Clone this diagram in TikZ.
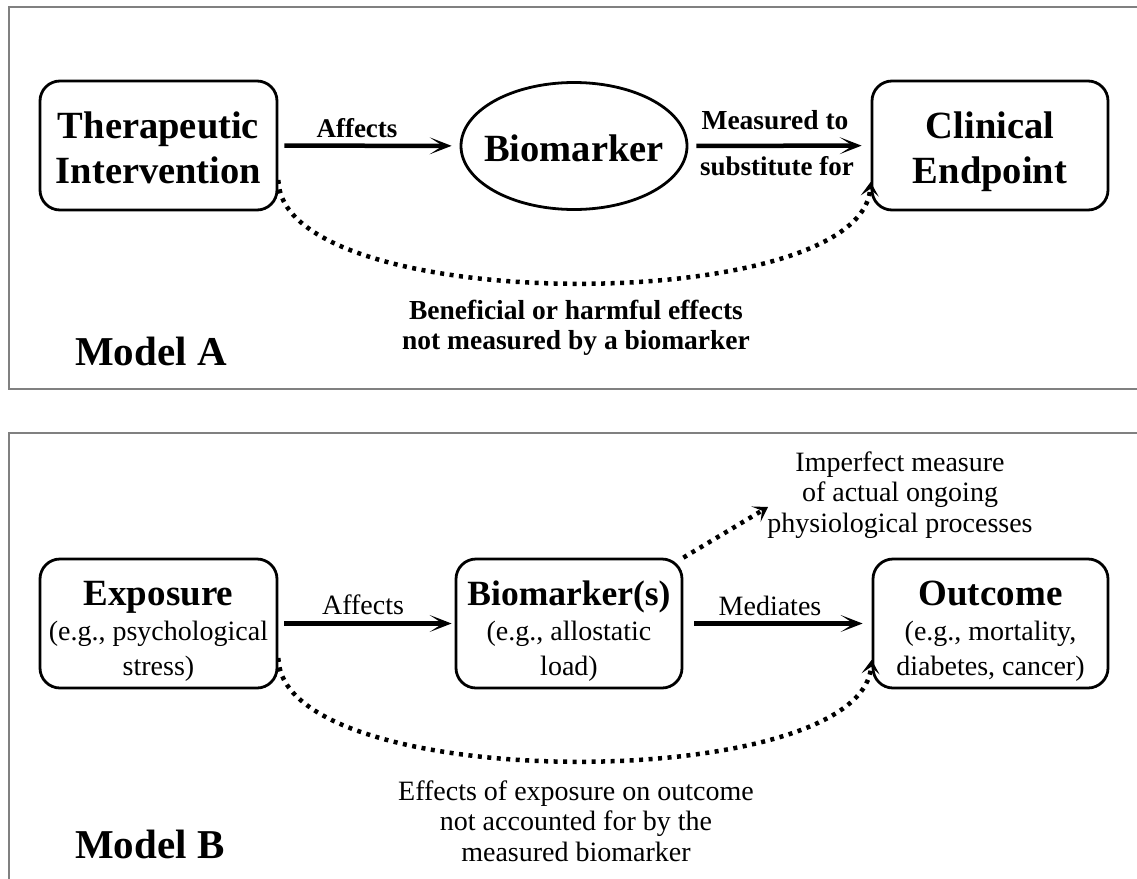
\documentclass[tikz,border=0pt]{standalone}
\usepackage{fontspec}
\setmainfont{Liberation Serif}
\usetikzlibrary{arrows.meta,shapes.geometric}
\newcommand{\hiStrut}[1]{\rule{0pt}{#1}}
\newcommand{\loStrut}[1]{\rule[-#1]{0pt}{#1}}
\newcommand{\titleA}{\fontsize{38.5}{45}\selectfont\bfseries}
\newcommand{\titleB}{\fontsize{37}{35}\selectfont\bfseries}
\newcommand{\bodyB}{\fontsize{28}{35}\selectfont}
\newcommand{\noteA}{\fontsize{27.5}{30}\selectfont\bfseries}
\newcommand{\noteB}{\fontsize{28}{30.5}\selectfont}
\newcommand{\modelFont}{\fontsize{41}{45}\selectfont\bfseries}
\begin{document}
\begin{tikzpicture}
[x=1pt,y=-1pt,
  frameDecorate/.style={draw=black!50,line width=2.5pt},
  boxDecorate/.style={shape=rectangle,rounded corners=20pt,draw,line width=2.8pt,
    inner sep=0pt,minimum width=237pt,minimum height=129pt,align=center},
  ovalDecorate/.style={shape=ellipse,draw,line width=2.8pt,inner ysep=0pt,
    inner xsep=-25pt,minimum width=226pt,minimum height=127pt},
  arrowDecorate/.style={-{Stealth[length=22pt,width=17pt,inset=13pt,line width=1.5pt]},
    line width=4.5pt},
  dotDecorate/.style={-{Stealth[length=14pt,width=18pt,inset=7pt,line width=1.5pt]},
    line width=4.5pt,dash pattern=on 4pt off 5.5pt},
  labelDecorate/.style={inner sep=0pt,align=center}]
\clip (0,0) rectangle (1137,878);
%% frames
\draw[frameDecorate] (1200,7) -- (9,7) -- (9,389) -- (1200,389);
\draw[frameDecorate] (1200,433) -- (9,433) -- (9,900);
%% model A
\node (therapy) at (158.5,145.5) [boxDecorate,font=\titleA]
  {\hiStrut{40pt}Therapeutic\\Intervention\loStrut{9pt}};
\node (marker) at (574,146) [ovalDecorate,font=\titleA]
  {\hiStrut{36pt}Biomarker\loStrut{6pt}};
\node (endpoint) at (990,145.5) [boxDecorate,minimum width=236pt,font=\titleA]
  {\hiStrut{40pt}Clinical\\Endpoint\loStrut{9pt}};
\node (affectsA) at (357,137) [labelDecorate,anchor=base,font=\fontsize{27}{30}\selectfont\bfseries] {Affects};
\node (measured) at (775,129) [labelDecorate,anchor=base,font=\fontsize{27.5}{30}\selectfont\bfseries] {Measured to};
\node (substitute) at (777,175) [labelDecorate,anchor=base,font=\fontsize{27}{30}\selectfont\bfseries] {substitute for};
\node (beneficial) at (576,328) [labelDecorate,font=\noteA]
  {Beneficial or harmful effects\\not measured by a biomarker};
\node (modelA) at (75,365) [labelDecorate,anchor=base west,font=\modelFont] {Model A};
\draw[arrowDecorate,shorten <=6pt,shorten >=8pt] (therapy) -- (marker);
\draw[arrowDecorate,shorten <=8pt,shorten >=9pt] (marker) -- (endpoint);
\draw[dotDecorate] (therapy.-16) .. controls (280,317) and (862,317) .. (endpoint.197);
%% model B
\node (exposure) at (158.5,623.5) [boxDecorate,font=\bodyB]
  {\hiStrut{42pt}{\titleB Exposure}\\(e.g., psychological\\stress)\loStrut{9pt}};
\node (markers) at (569,623.5) [boxDecorate,minimum width=226pt,font=\bodyB]
  {\hiStrut{42pt}{\fontsize{35.5}{35}\selectfont\bfseries Biomarker(s)}\\(e.g., allostatic\\load)\loStrut{9pt}};
\node (outcome) at (990.5,623.5) [boxDecorate,minimum width=235pt,font=\bodyB]
  {\hiStrut{42pt}{\titleB Outcome}\\(e.g., mortality,\\diabetes, cancer)\loStrut{9pt}};
\node (affectsB) at (363,614) [labelDecorate,anchor=base,font=\bodyB] {Affects};
\node (mediates) at (770,615) [labelDecorate,anchor=base,font=\bodyB] {Mediates};
\node (imperfect) at (900,495) [labelDecorate,font=\noteB]
  {Imperfect measure\\of actual ongoing\\physiological processes};
\node (unaccounted) at (576,821) [labelDecorate,font=\noteB]
  {Effects of exposure on outcome\\not accounted for by the\\measured biomarker};
\node (modelB) at (75,858) [labelDecorate,anchor=base west,font=\modelFont] {Model B};
\coordinate (imperfectTip) at (768,507);
\draw[arrowDecorate,shorten <=6pt,shorten >=3pt] (exposure) -- (markers);
\draw[arrowDecorate,shorten <=11pt,shorten >=9pt] (markers) -- (outcome);
\draw[dotDecorate] (markers.north east) -- (imperfectTip);
\draw[dotDecorate] (exposure.-16) .. controls (280,795) and (862,795) .. (outcome.197);
\end{tikzpicture}
\end{document}
